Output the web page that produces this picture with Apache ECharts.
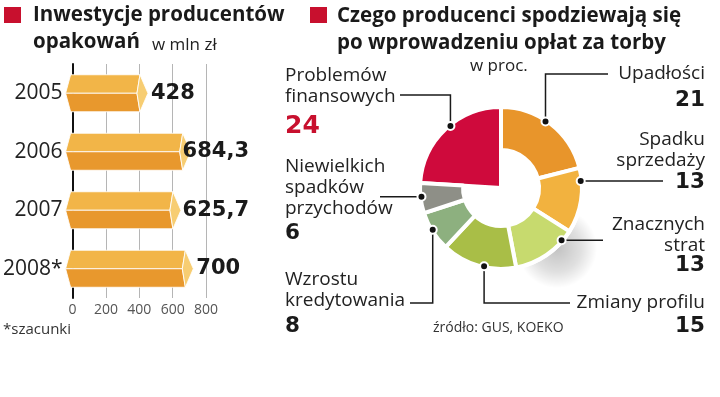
<!DOCTYPE html>
<html>
<head>
<meta charset="utf-8">
<script src="https://cdn.jsdelivr.net/npm/echarts@6/dist/echarts.min.js"></script>
<style>
  html, body { margin: 0; padding: 0; background: #fff; }
  #chart { width: 720px; height: 397px; }
</style>
</head>
<body>
<div id="chart"></div>
<script>
// dane - lewy wykres (w mln zł)
const years = ['2005', '2006', '2007', '2008*'];
const investments = [428, 684.3, 625.7, 700];
const xTicks = [0, 200, 400, 600, 800];

// dane - prawy wykres (w proc.), zgodnie z ruchem wskazówek od góry
const reasonNames = ['Upadłości', 'Spadku\nsprzedaży', 'Znacznych\nstrat', 'Zmiany profilu',
    'Wzrostu\nkredytowania', 'Niewielkich\nspadków\nprzychodów', 'Problemów\nfinansowych'];
const reasonValues = [21, 13, 13, 15, 8, 6, 24];
const reasonColors = ['#e8952b', '#f2b23f', '#c7da6e', '#a9be47', '#8db07f', '#8e8f87', '#cf0a3c'];
const RED_IDX = 6;

const RED = '#c8102e';
const CX = 501, CY = 188, R_OUT = 81, R_IN = 38, ANCHOR_R = 80;

// rozmieszczenie opisów (tylko układ)
const notes = [
    {x: 705, align: 'right', textY: 74, numY: 100, nudge: 4, path: [['y', 74], ['x', 608]]},
    {x: 705, align: 'right', textY: 140, numY: 182, nudge: 14, path: [['x', 663]]},
    {x: 705, align: 'right', textY: 225, numY: 265, nudge: 15, path: [['x', 603]]},
    {x: 705, align: 'right', textY: 303, numY: 326, nudge: 4, path: [['y', 303], ['x', 570]]},
    {x: 285, align: 'left', textY: 280, numY: 326, nudge: -1, path: [['y', 303], ['x', 410]]},
    {x: 285, align: 'left', textY: 167, numY: 233, nudge: -1, path: [['x', 380]]},
    {x: 285, align: 'left', textY: 76, numY: 126, nudge: -4, path: [['y', 95], ['x', 400]], big: true}
];

const measureCtx = document.createElement('canvas').getContext('2d');
measureCtx.font = 'bold 21px "DejaVu Sans"';

const fmt = v => String(v).replace('.', ',');

const chart = echarts.init(document.getElementById('chart'));

const graphics = [
    // miękki cień pod pierścieniem
    {type: 'ellipse', z: -10, silent: true,
        shape: {cx: CX + 56, cy: CY + 60, rx: 82, ry: 40},
        style: {fill: {type: 'radial', x: 0.5, y: 0.5, r: 0.5, colorStops: [
            {offset: 0, color: 'rgba(0,0,0,0.24)'},
            {offset: 0.6, color: 'rgba(0,0,0,0.12)'},
            {offset: 1, color: 'rgba(0,0,0,0)'}]}}},

    {type: 'rect', shape: {x: 4, y: 7, width: 17, height: 16}, style: {fill: RED}},
    {type: 'text', style: {text: 'Inwestycje producentów', x: 33, y: 15, verticalAlign: 'middle',
        fontFamily: 'Open Sans', fontWeight: 'bold', fontSize: 20.5, fill: '#1a1a1a'}},
    {type: 'text', style: {text: 'opakowań', x: 33, y: 42, verticalAlign: 'middle',
        fontFamily: 'Open Sans', fontWeight: 'bold', fontSize: 20.5, fill: '#1a1a1a'}},
    {type: 'text', style: {text: 'w mln zł', x: 152, y: 45, verticalAlign: 'middle',
        fontFamily: 'Open Sans', fontSize: 17, fill: '#222'}},
    {type: 'text', style: {text: '*szacunki', x: 3, y: 330, verticalAlign: 'middle',
        fontFamily: 'Open Sans', fontSize: 15, fill: '#333'}},

    {type: 'rect', shape: {x: 310, y: 7, width: 17, height: 16}, style: {fill: RED}},
    {type: 'text', style: {text: 'Czego producenci spodziewają się', x: 337, y: 16, verticalAlign: 'middle',
        fontFamily: 'Open Sans', fontWeight: 'bold', fontSize: 20.5, fill: '#1a1a1a'}},
    {type: 'text', style: {text: 'po wprowadzeniu opłat za torby', x: 337, y: 43, verticalAlign: 'middle',
        fontFamily: 'Open Sans', fontWeight: 'bold', fontSize: 20.5, fill: '#1a1a1a'}},
    {type: 'text', style: {text: 'w proc.', x: 470, y: 66, verticalAlign: 'middle',
        fontFamily: 'Open Sans', fontSize: 17, fill: '#222'}},
    {type: 'text', style: {text: 'źródło: GUS, KOEKO', x: 433, y: 328, verticalAlign: 'middle',
        fontFamily: 'Open Sans', fontSize: 14, fill: '#333'}}
];

// linie odniesienia i opisy wycinków
let cum = 0;
reasonValues.forEach((v, i) => {
    const note = notes[i];
    const mid = 90 - (cum + v / 2) * 3.6 + note.nudge;
    cum += v;
    const rad = mid * Math.PI / 180;
    const ax = CX + ANCHOR_R * Math.cos(rad);
    const ay = CY - ANCHOR_R * Math.sin(rad);
    const pts = [[ax, ay]];
    let px = ax, py = ay;
    note.path.forEach(([k, val]) => {
        if (k === 'x') px = val; else py = val;
        pts.push([px, py]);
    });
    graphics.push({type: 'polyline', z: 10, shape: {points: pts},
        style: {stroke: '#1a1a1a', lineWidth: 1.5, fill: null}});
    graphics.push({type: 'circle', z: 11, shape: {cx: ax, cy: ay, r: 4},
        style: {fill: '#111', stroke: '#fff', lineWidth: 2}});
    graphics.push({type: 'text', z: 10, style: {text: reasonNames[i], x: note.x, y: note.textY - 10.5,
        align: note.align, verticalAlign: 'top', lineHeight: 21,
        fontFamily: 'Open Sans', fontSize: 19, fill: '#222'}});
    graphics.push({type: 'text', z: 10, style: {text: String(v), x: note.x, y: note.numY,
        align: note.align, verticalAlign: 'middle',
        fontFamily: 'DejaVu Sans', fontWeight: 'bold', fontSize: note.big ? 25 : 21.5,
        fill: note.big ? RED : '#1a1a1a'}});
});

function renderBar(params, api) {
    const v = api.value(0), idx = api.value(1);
    const s = api.coord([0, idx]);
    const e = api.coord([v, idx]);
    const xs = s[0], xe = e[0], yc = e[1], h = 18.5;
    const yt = yc - h, yb = yc + h;
    const txt = fmt(v);
    const w = measureCtx.measureText(txt).width;
    const lx = Math.min(xe + 7, 249 - w);
    const edge = {stroke: 'rgba(255,255,255,0.85)', lineWidth: 1};
    return {
        type: 'group',
        children: [
            {type: 'polygon', shape: {points: [[xs - 7, yc], [xs - 2, yt], [xe - 4, yt], [xe - 7, yc]]},
                style: Object.assign({fill: '#f2b548'}, edge)},
            {type: 'polygon', shape: {points: [[xs - 7, yc], [xe - 7, yc], [xe - 4, yb], [xs - 2, yb]]},
                style: Object.assign({fill: '#e8982d'}, edge)},
            {type: 'polygon', shape: {points: [[xe - 4, yt], [xe + 4, yc], [xe - 4, yb], [xe - 7, yc]]},
                style: Object.assign({fill: '#f7cd72'}, edge)},
            {type: 'text', z2: 5, style: {text: txt, x: lx, y: yc, verticalAlign: 'middle',
                fontFamily: 'DejaVu Sans', fontWeight: 'bold', fontSize: 21, fill: '#1a1a1a'}}
        ]
    };
}

chart.setOption({
    animation: false,
    grid: {left: 67, top: 64, width: 139, height: 234},
    xAxis: {
        type: 'value',
        min: xTicks[0],
        max: xTicks[xTicks.length - 1],
        interval: xTicks[1] - xTicks[0],
        axisLine: {show: false},
        axisTick: {show: false},
        axisLabel: {color: '#555', fontSize: 14, fontFamily: 'Open Sans', margin: 5},
        splitLine: {lineStyle: {color: '#b5b5b5', width: 1}}
    },
    yAxis: {
        type: 'category',
        inverse: true,
        data: years,
        axisLine: {lineStyle: {color: '#111', width: 2}},
        axisTick: {show: false},
        axisLabel: {color: '#222', fontSize: 21, fontFamily: 'Open Sans', margin: 10}
    },
    graphic: graphics,
    series: [
        {
            type: 'custom',
            renderItem: renderBar,
            encode: {x: 0, y: 1},
            data: investments.map((v, i) => [v, i]),
            z: 3
        },
        {
            // białe tło pod pierścieniem (zasłania cień w szczelinach)
            type: 'pie', silent: true, z: 1,
            center: [CX, CY], radius: [0, R_OUT + 2], startAngle: 90,
            label: {show: false}, labelLine: {show: false},
            itemStyle: {color: '#fff'},
            data: [{value: reasonValues.reduce((a, b) => a + b, 0)}]
        },
        {
            // pełny wycinek "Problemów finansowych"
            type: 'pie', silent: true, z: 2,
            center: [CX, CY], radius: [0, R_OUT], startAngle: 90,
            label: {show: false}, labelLine: {show: false},
            data: reasonValues.map((v, i) => ({
                value: v,
                itemStyle: i === RED_IDX
                    ? {color: reasonColors[i], borderColor: '#fff', borderWidth: 4}
                    : {color: 'rgba(0,0,0,0)', borderWidth: 0}
            }))
        },
        {
            type: 'pie', silent: true, z: 3,
            center: [CX, CY], radius: [R_IN, R_OUT], startAngle: 90,
            label: {show: false}, labelLine: {show: false},
            data: reasonValues.map((v, i) => ({
                value: v,
                itemStyle: i === RED_IDX
                    ? {color: 'rgba(0,0,0,0)', borderWidth: 0}
                    : {color: reasonColors[i], borderColor: '#fff', borderWidth: 4}
            }))
        }
    ]
});
</script>
</body>
</html>
